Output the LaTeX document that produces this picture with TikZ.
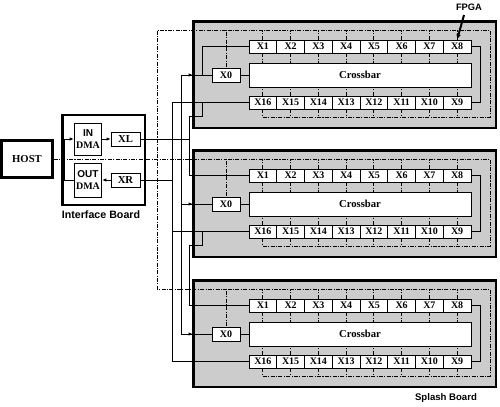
\documentclass[tikz,border=0pt]{standalone}
\usepackage{fontspec}
\setmainfont{Liberation Serif}
\setsansfont{Liberation Sans}
\usetikzlibrary{shapes,arrows.meta,positioning,calc,decorations.markings}

\begin{document}
\begin{tikzpicture}[x=0.75pt,y=-0.75pt,
  >={Latex[length=3pt,width=2.6pt]},
  wire/.style={line width=0.6pt},
  bus/.style={line width=0.6pt,dash pattern=on 3pt off 1pt on 0.8pt off 1pt},
  xcell/.style={draw,fill=white,line width=0.6pt,inner sep=0pt,minimum width=20.8pt,minimum height=9.75pt,font=\fontsize{7.5}{8}\selectfont\bfseries},
  board/.style={draw,fill=gray!40,line width=2pt,minimum width=227pt,minimum height=80pt,inner sep=0pt},
  heavy/.style={draw,fill=white,line width=2pt,inner sep=0pt},
  tag/.style={font=\fontsize{7.5}{8}\selectfont\sffamily\bfseries},
  midarrow/.style={postaction={decorate},decoration={markings,mark=at position #1 with {\arrow{>}}}}
]
\useasboundingbox (0,0) rectangle (500,407);

% Bus positions between interface board and splash boards
\coordinate (ctlbus) at (157,0);
\coordinate (outbus) at (172,0);
\coordinate (simd) at (181,0);
\coordinate (chain) at (190,0);

% Host and interface board
\node[heavy, minimum width=38pt, minimum height=28pt, font=\fontsize{8}{9}\selectfont\bfseries] (host) at (27,159) {HOST};
\node[heavy, minimum width=62pt, minimum height=67.5pt] (iface) at (103.5,160) {};
\node[xcell, minimum height=24pt, align=center, font=\fontsize{7.5}{9}\selectfont\bfseries] (indma) at (88,139) {\textsf{IN}\\DMA};
\node[xcell, minimum height=25.5pt, align=center, font=\fontsize{7.5}{9}\selectfont\bfseries] (outdma) at (88,180) {\textsf{OUT}\\DMA};
\node[xcell, minimum width=21.75pt, minimum height=10.5pt, font=\fontsize{8}{8}\selectfont\bfseries] (xl) at (125.5,139) {XL};
\node[xcell, minimum width=21.75pt, minimum height=10.5pt, font=\fontsize{8}{8}\selectfont\bfseries] (xr) at (125.5,180) {XR};
\node[tag, font=\fontsize{8}{9}\selectfont\sffamily\bfseries] (iflbl) at (101,215) {Interface Board};

\draw[wire,->] (indma.east |- xl.west) -- (xl.west);
\draw[wire,->] (xr.west) -- (outdma.east);
\draw[wire,->] (outdma.west) -- ++(-9,0) |- (indma.west);

% Splash boards
\foreach \b/\t in {1/21,2/150,3/280} {
  \node[board] (brd\b) at (344.5,\t+53.5) {};
  \node[xcell, minimum width=21pt, minimum height=10.5pt] (b\b-x0) at (226,\t+54) {X0};
  \node[xcell, minimum width=166.5pt, minimum height=18pt, font=\fontsize{8}{9}\selectfont\bfseries] (b\b-bar) at (360,\t+54) {Crossbar};
  \foreach \i in {1,...,8} {
    \pgfmathtruncatemacro\j{17-\i}
    \node[xcell] (b\b-x\i) at ({249+27.75*(\i-0.5)},\t+25.5) {X\i};
    \node[xcell] (b\b-x\j) at ({249+27.75*(\i-0.5)},\t+81.5) {X\j};
  }
  \coordinate (b\b-tr) at (490,\t+9);
  \coordinate (b\b-br) at (490,\t+96);

  % dashed control ring
  \draw[bus] (b\b-x16.south) -- (b\b-x16.south |- b\b-br) -- (b\b-br) -- (b\b-tr) -- (b\b-x0.north |- b\b-tr) -- (b\b-x0.north);
  \foreach \i in {1,...,8} {
    \draw[bus] (b\b-x\i.north) -- (b\b-x\i.north |- b\b-tr);
    \draw[bus] (b\b-x\i.south) -- (b\b-x\i.south |- b\b-bar.north);
  }
  \foreach \i in {9,...,16} {
    \draw[bus] (b\b-x\i.south) -- (b\b-x\i.south |- b\b-br);
    \draw[bus] (b\b-x\i.north) -- (b\b-x\i.north |- b\b-bar.south);
  }

  % data paths
  \draw[wire] (b\b-x8.east) -- ++(9,0) |- (b\b-x9.east);
  \draw[wire] (b\b-x0.east) -- (b\b-bar.west);
  \draw[wire,midarrow=0.38] (b\b-x0.west -| simd) -- (b\b-x0.west);
  \draw[wire] (b\b-x16.west) -- (b\b-x16.west -| outbus);
}

% Buses
\draw[wire] (b1-x0.west -| simd) -- (b3-x0.west -| simd);
\draw[wire] (b1-x16.west -| outbus) -- (b3-x16.west -| outbus);
\draw[wire] (b1-x1.west) -| ($(b1-x0.west)+(-9,0)$);
\draw[wire] ($(b1-x16.west)+(-46,0)$) |- ($(b1-x16.west)+(-59,13.5)$) |- (b2-x1.west);
\draw[wire] ($(b2-x16.west)+(-46,0)$) |- ($(b2-x16.west)+(-59,13.5)$) |- (b3-x1.west);
\draw[wire] (xl.east) -- (xl.east -| chain);
\draw[wire] (xr.east) -- (xr.east -| outbus);

% Control lines
\draw[bus] (b1-x0.north |- b1-tr) -- (b1-tr -| ctlbus) -- (b3-tr -| ctlbus) -- (b3-x0.north |- b3-tr);
\draw[bus] (host.east) -- (b2-x0.north |- b2-tr);

% Labels
\node[tag, font=\fontsize{7}{8}\selectfont\sffamily\bfseries] (fpgalbl) at (469,7) {FPGA};
\draw[line width=1.5pt,-{Latex[length=4pt,width=3.5pt]}] ($(fpgalbl.south)+(-5,0)$) -- (b1-x8.north);
\node[tag, font=\fontsize{7.2}{8}\selectfont\sffamily\bfseries] (splbl) at (446,398) {Splash Board};

\end{tikzpicture}
\end{document}
